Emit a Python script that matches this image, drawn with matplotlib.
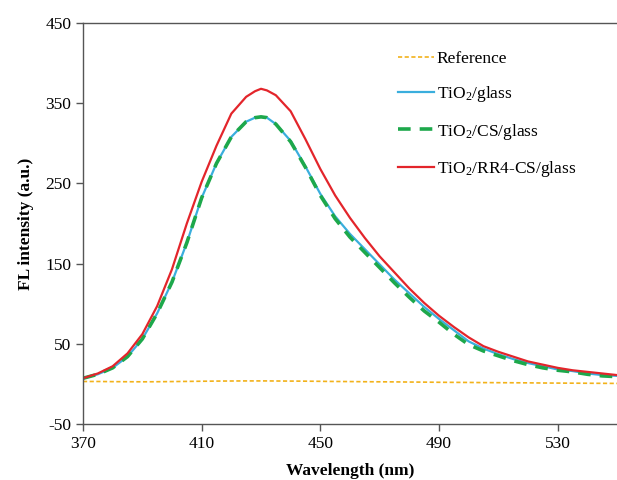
import numpy as np
import matplotlib
matplotlib.use("Agg")
import matplotlib.pyplot as plt

plt.rcParams['font.family'] = ['Liberation Serif', 'DejaVu Serif']
plt.rcParams['mathtext.default'] = 'regular'
plt.rcParams['axes.unicode_minus'] = False

# wavelength (nm)
wl = [370, 375, 380, 385, 390, 395, 400, 405, 410, 415, 420, 425, 428, 430, 432,
      435, 440, 445, 450, 455, 460, 465, 470, 475, 480, 485, 490, 495, 500, 505,
      510, 515, 520, 525, 530, 535, 540, 545, 550]

reference = [3, 3, 2.8, 2.7, 2.6, 2.7, 2.9, 3.1, 3.3, 3.5, 3.6, 3.7, 3.7, 3.7, 3.7,
             3.6, 3.5, 3.4, 3.2, 3.0, 2.9, 2.7, 2.6, 2.5, 2.3, 2.2, 2.0, 1.9, 1.8, 1.6,
             1.5, 1.4, 1.3, 1.1, 1.0, 0.9, 0.8, 0.7, 0.6]

tio2_glass = [7, 12, 20, 34, 56, 88, 127, 176, 232, 275, 308, 327, 332, 333, 332,
              324, 303, 271, 237, 209, 187, 168, 149, 130, 113, 96, 81, 67, 53, 44,
              37, 31, 26, 22, 18, 16, 13, 11, 10]

tio2_cs_glass = [7, 12, 20, 34, 56, 88, 127, 176, 232, 275, 308, 327, 332, 333, 332,
                 324, 302, 270, 235, 206, 183, 164, 145, 126, 108, 91, 77, 62, 49, 41,
                 35, 29, 24, 20, 17, 15, 12, 10, 9]

tio2_rr4_cs_glass = [7, 13, 22, 38, 62, 97, 143, 200, 252, 297, 337, 358, 365, 368, 366,
                     360, 340, 305, 268, 235, 207, 182, 159, 139, 119, 101, 85, 71, 58, 47,
                     40, 34, 28, 24, 20, 17, 15, 13, 11]

fig = plt.figure(figsize=(6.17, 4.80), dpi=100)
ax = fig.add_axes([0.1345, 0.1167, 0.8655, 0.8353])

ax.plot(wl, reference, color='#F2B21B', lw=1.2, ls=(0, (2.5, 1.5)), label='Reference')
ax.plot(wl, tio2_glass, color='#3AAEDD', lw=1.6, label='TiO$_2$/glass')
ax.plot(wl, tio2_cs_glass, color='#1DA84B', lw=2.6, ls=(0, (3.5, 2.5)), label='TiO$_2$/CS/glass')
ax.plot(wl, tio2_rr4_cs_glass, color='#E3252B', lw=1.6, label='TiO$_2$/RR4-CS/glass')

ax.set_xlim(370, 550)
ax.set_ylim(-50, 450)
ax.set_xticks([370, 410, 450, 490, 530])
ax.set_yticks([-50, 50, 150, 250, 350, 450])
ax.tick_params(labelsize=12.5, direction='out', length=5, width=1, color='#555555')

for s in ['left', 'bottom', 'top']:
    ax.spines[s].set_color('#555555')
    ax.spines[s].set_linewidth(1.0)
ax.spines['right'].set_visible(False)

ax.set_xlabel('Wavelength (nm)', fontsize=12.5, fontweight='bold', labelpad=8)
ax.set_ylabel('FL intensity (a.u.)', fontsize=12.5, fontweight='bold', labelpad=8)

ax.legend(loc='upper left', bbox_to_anchor=(0.56, 0.97), frameon=False, fontsize=12.5,
          handlelength=2.1, handletextpad=0.15, labelspacing=1.0)

fig.savefig('out.png', dpi=100)
